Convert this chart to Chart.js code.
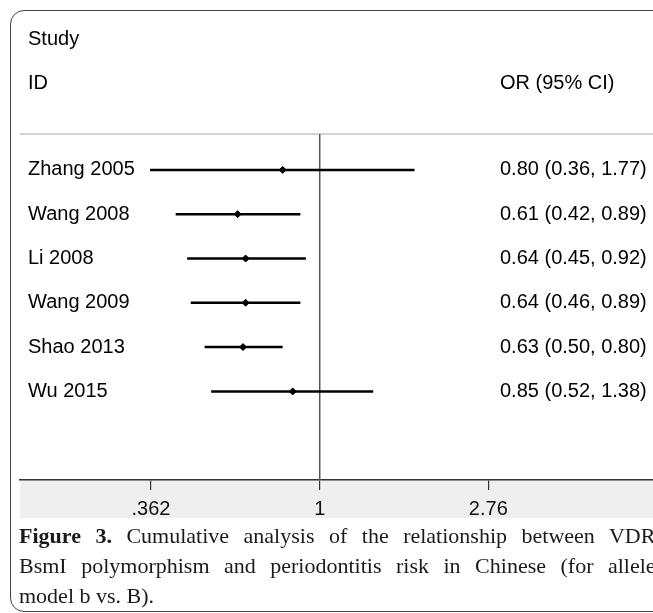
<!DOCTYPE html>
<html>
<head>
<meta charset="utf-8">
<script src="https://cdn.jsdelivr.net/npm/chart.js@4/dist/chart.umd.min.js"></script>
<style>
  html, body { margin: 0; padding: 0; background: #fff; overflow: hidden; width: 653px; height: 613px; }
  .frame { position: absolute; left: 10px; top: 10px; width: 720px; height: 600px;
    border: 1.5px solid #444; border-radius: 14px; }
  #wrap { position: absolute; left: 0; top: 0; width: 658px; height: 528px; }
  .caption { position: absolute; left: 19px; top: 521px; font-family: "Liberation Serif", "Times New Roman", serif;
    font-size: 22px; line-height: 30px; color: #1a1a1a; white-space: nowrap; }
</style>
</head>
<body>
<div class="frame"></div>
<div id="wrap"><canvas id="forest"></canvas></div>
<div class="caption">
  <div style="word-spacing:9px"><b>Figure 3.</b> Cumulative analysis of the relationship between VDR</div>
  <div style="word-spacing:9px">BsmI polymorphism and periodontitis risk in Chinese (for allele</div>
  <div>model b vs. B).</div>
</div>
<script>
// ==================== DATA ====================
const studies = ['Zhang 2005', 'Wang 2008', 'Li 2008', 'Wang 2009', 'Shao 2013', 'Wu 2015'];
const orValues = [0.80, 0.61, 0.64, 0.64, 0.63, 0.85];
const ciLow = [0.36, 0.42, 0.45, 0.46, 0.50, 0.52];
const ciHigh = [1.77, 0.89, 0.92, 0.89, 0.80, 1.38];
const tickValues = [0.362, 1, 2.76];
const tickLabels = ['.362', '1', '2.76'];

const FONT = '"Liberation Sans", Arial, sans-serif';
const Y_MIN = -0.81, Y_MAX = 7.0;

const fmt = v => v.toFixed(2);

// grey band under the axis + top rule
const bandPlugin = {
  id: 'band',
  beforeDraw(chart) {
    const { ctx, chartArea } = chart;
    ctx.save();
    ctx.fillStyle = '#efefef';
    ctx.fillRect(chartArea.left, chartArea.bottom, chartArea.right - chartArea.left, 38);
    ctx.strokeStyle = '#c4c4c4';
    ctx.lineWidth = 1.5;
    ctx.beginPath();
    ctx.moveTo(chartArea.left, chartArea.top);
    ctx.lineTo(chartArea.right, chartArea.top);
    ctx.stroke();
    ctx.restore();
  }
};

// study labels and OR text
const labelPlugin = {
  id: 'labels',
  afterDatasetsDraw(chart) {
    const { ctx, scales } = chart;
    ctx.save();
    ctx.fillStyle = '#000';
    ctx.font = '20px ' + FONT;
    ctx.textBaseline = 'middle';
    ctx.textAlign = 'left';
    ctx.fillText('Study', 28, 39);
    ctx.fillText('ID', 28, 83);
    ctx.fillText('OR (95% CI)', 500, 83);
    studies.forEach((s, i) => {
      const y = scales.y.getPixelForValue(i);
      ctx.fillText(s, 28, y);
      ctx.fillText(`${fmt(orValues[i])} (${fmt(ciLow[i])}, ${fmt(ciHigh[i])})`, 500, y);
    });
    ctx.restore();
  }
};

const datasets = [
  {
    type: 'line', label: 'ref', order: 3,
    data: [{ x: 1, y: Y_MIN }, { x: 1, y: Y_MAX }],
    borderColor: '#555', borderWidth: 1.5, pointRadius: 0
  },
  ...studies.map((s, i) => ({
    type: 'line', label: s, order: 2,
    data: [{ x: ciLow[i], y: i }, { x: ciHigh[i], y: i }],
    borderColor: '#000', borderWidth: 2.5, pointRadius: 0
  })),
  {
    type: 'scatter', label: 'OR', order: 1,
    data: orValues.map((v, i) => ({ x: v, y: i })),
    pointStyle: 'rectRot', pointRadius: 3.5, backgroundColor: '#000', borderColor: '#000', borderWidth: 1
  }
];

new Chart(document.getElementById('forest'), {
  type: 'scatter',
  data: { datasets },
  plugins: [bandPlugin, labelPlugin],
  options: {
    responsive: true, maintainAspectRatio: false, animation: false,
    layout: { padding: { top: 134, left: 20, right: 0, bottom: 0 } },
    plugins: { legend: { display: false }, tooltip: { enabled: false } },
    scales: {
      x: {
        type: 'logarithmic', min: 0.1645, max: 7.44,
        afterBuildTicks: axis => { axis.ticks = tickValues.map(v => ({ value: v })); },
        ticks: {
          autoSkip: false, maxRotation: 0, padding: 7, color: '#111',
          font: { family: FONT, size: 20 },
          callback: (v) => tickLabels[tickValues.indexOf(v)] ?? ''
        },
        grid: { drawOnChartArea: false, drawTicks: true, tickLength: 10, color: '#333', lineWidth: 1.2 },
        border: { display: true, color: '#333', width: 1.5 }
      },
      y: { type: 'linear', reverse: true, min: Y_MIN, max: Y_MAX, display: false }
    }
  }
});
</script>
</body>
</html>
